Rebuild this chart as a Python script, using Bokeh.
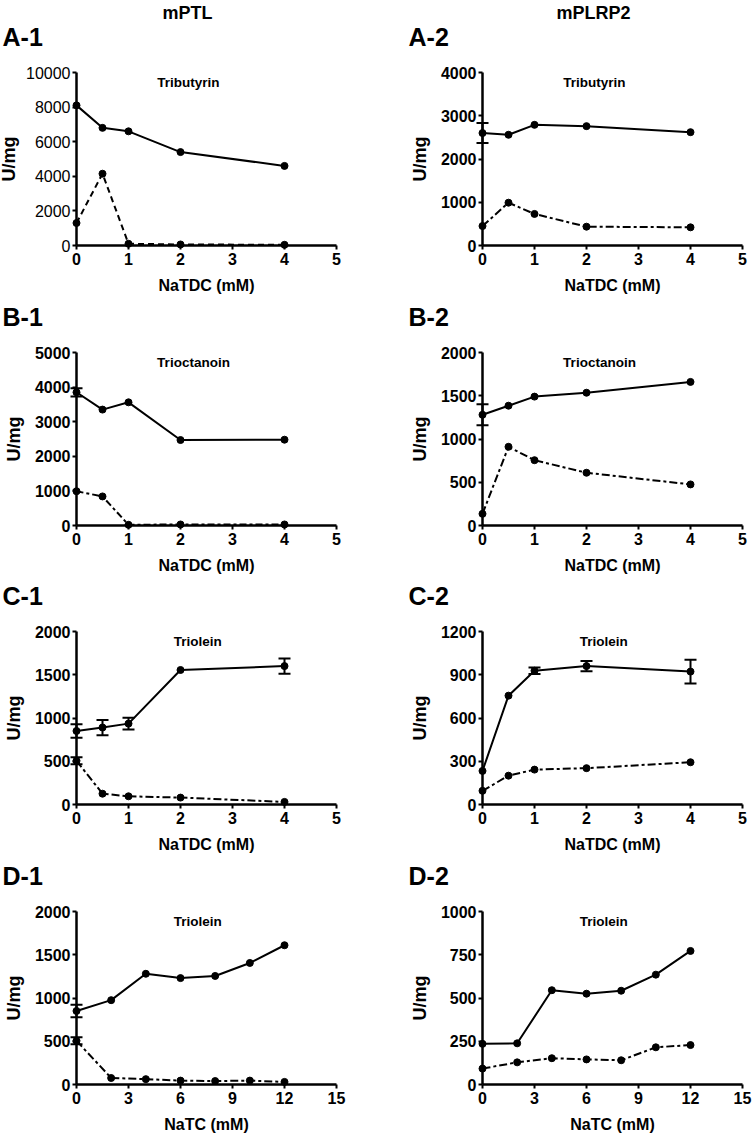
from bokeh.plotting import figure
from bokeh.layouts import column, row
from bokeh.models import Range1d, Label, Whisker, ColumnDataSource, FixedTicker, TeeHead
from bokeh.embed import file_html
from bokeh.resources import INLINE

FONT = "Liberation Sans"

# ---------------- data ----------------
col_titles = ["mPTL", "mPLRP2"]
x_natdc = [0, 0.5, 1, 2, 4]
x_natc = [0, 2, 4, 6, 8, 10, 12]
xticks_natdc = [0, 1, 2, 3, 4, 5]
xticks_natc = [0, 3, 6, 9, 12, 15]
xlabel_natdc = "NaTDC (mM)"
xlabel_natc = "NaTC (mM)"
ylabel = "U/mg"

# A-1  mPTL, Tributyrin
a1_yticks = [0, 2000, 4000, 6000, 8000, 10000]
a1_solid = [8100, 6800, 6600, 5400, 4600]
a1_solid_err = [0, 0, 0, 0, 0]
a1_dash = [1300, 4150, 100, 60, 40]
a1_dash_err = [0, 0, 0, 0, 0]

# A-2  mPLRP2, Tributyrin
a2_yticks = [0, 1000, 2000, 3000, 4000]
a2_solid = [2600, 2560, 2790, 2760, 2620]
a2_solid_err = [230, 0, 0, 0, 0]
a2_dash = [450, 990, 730, 435, 420]
a2_dash_err = [0, 0, 0, 0, 0]

# B-1  mPTL, Trioctanoin
b1_yticks = [0, 1000, 2000, 3000, 4000, 5000]
b1_solid = [3850, 3350, 3560, 2470, 2480]
b1_solid_err = [120, 0, 0, 0, 0]
b1_dash = [990, 840, 20, 30, 30]
b1_dash_err = [0, 0, 0, 0, 0]

# B-2  mPLRP2, Trioctanoin
b2_yticks = [0, 500, 1000, 1500, 2000]
b2_solid = [1280, 1385, 1490, 1535, 1660]
b2_solid_err = [122, 0, 0, 0, 0]
b2_dash = [135, 910, 755, 610, 475]
b2_dash_err = [0, 0, 0, 0, 0]

# C-1  mPTL, Triolein, NaTDC
c1_yticks = [0, 500, 1000, 1500, 2000]
c1_solid = [850, 890, 935, 1555, 1600]
c1_solid_err = [77, 88, 68, 0, 88]
c1_dash = [505, 125, 95, 80, 30]
c1_dash_err = [40, 0, 0, 0, 0]

# C-2  mPLRP2, Triolein, NaTDC
c2_yticks = [0, 300, 600, 900, 1200]
c2_solid = [233, 755, 928, 960, 922]
c2_solid_err = [0, 0, 23, 35, 82]
c2_dash = [95, 200, 242, 252, 293]
c2_dash_err = [0, 0, 0, 0, 0]

# D-1  mPTL, Triolein, NaTC
d1_yticks = [0, 500, 1000, 1500, 2000]
d1_solid = [850, 975, 1280, 1230, 1255, 1405, 1610]
d1_solid_err = [73, 0, 0, 0, 0, 0, 0]
d1_dash = [505, 75, 62, 45, 40, 45, 30]
d1_dash_err = [40, 0, 0, 0, 0, 0, 0]

# D-2  mPLRP2, Triolein, NaTC
d2_yticks = [0, 250, 500, 750, 1000]
d2_solid = [235, 238, 545, 525, 542, 635, 772]
d2_solid_err = [0, 0, 0, 0, 0, 0, 0]
d2_dash = [92, 128, 152, 145, 140, 215, 228]
d2_dash_err = [0, 0, 0, 0, 0, 0, 0]


# ---------------- drawing ----------------
W, H = 260, 173          # pixel length of x (0..xmax) and y (0..ymax) axes
FIG_W = [377, 376]
AX_X = [76, 105]
ROWS = [(296, 72), (280, 56), (280, 55), (277, 55)]   # (figure height, px from top to ymax)


def add_err(p, xs, ys, err):
    idx = [i for i, e in enumerate(err) if e > 0]
    if not idx:
        return
    src = ColumnDataSource(dict(
        x=[xs[i] for i in idx],
        upper=[ys[i] + err[i] for i in idx],
        lower=[ys[i] - err[i] for i in idx]))
    p.add_layout(Whisker(source=src, base="x", upper="upper", lower="lower",
                         dimension="height", line_width=2, line_color="black",
                         upper_head=TeeHead(size=12, line_width=2, line_color="black"),
                         lower_head=TeeHead(size=12, line_width=2, line_color="black")))


def panel(letter, substrate, sub_frac, xs, solid, solid_err, dash, dash_err,
          xticks, xlabel, yticks, dash_style, col, rowi, ytick_style="bold",
          ylab_standoff=8):
    xmax = xticks[-1]
    ymax = yticks[-1]
    height, top_y = ROWS[rowi]
    width = FIG_W[col]
    ax_x = AX_X[col]
    ux = xmax / W
    uy = ymax / H
    xr = Range1d(-ax_x * ux, xmax + (width - ax_x - W) * ux)
    yr = Range1d(-(height - top_y - H) * uy, ymax + top_y * uy)
    p = figure(width=width, height=height, x_range=xr, y_range=yr,
               output_backend="svg", toolbar_location=None,
               min_border_left=0, min_border_right=0, min_border_top=0,
               min_border_bottom=0)
    p.outline_line_color = None
    p.xgrid.visible = False
    p.ygrid.visible = False
    p.background_fill_color = "white"
    p.border_fill_color = "white"

    for ax in (p.xaxis[0], p.yaxis[0]):
        ax.fixed_location = 0
        ax.axis_line_width = 2.5
        ax.axis_line_color = "black"
        ax.major_tick_line_width = 2
        ax.major_tick_line_color = "black"
        ax.major_tick_out = 4
        ax.major_tick_in = 0
        ax.minor_tick_line_color = None
        ax.major_label_text_font = FONT
        ax.major_label_text_font_size = "16px"
        ax.major_label_text_font_style = "bold"
        ax.major_label_text_color = "black"
        ax.axis_label_text_font = FONT
        ax.axis_label_text_font_style = "bold"
        ax.axis_label_text_color = "black"

    xa = p.xaxis[0]
    xa.bounds = (0, xmax)
    xa.ticker = FixedTicker(ticks=xticks)
    xa.major_label_standoff = 3
    xa.axis_label = xlabel
    xa.axis_label_text_font_size = "16px"
    xa.axis_label_standoff = 9

    ya = p.yaxis[0]
    ya.bounds = (0, ymax)
    ya.ticker = FixedTicker(ticks=yticks)
    ya.major_label_standoff = 2
    ya.major_label_text_font_style = ytick_style
    ya.axis_label = ylabel
    ya.axis_label_text_font_size = "18px"
    ya.axis_label_standoff = ylab_standoff

    # solid series
    p.line(xs, solid, line_width=2, line_color="black")
    add_err(p, xs, solid, solid_err)
    p.scatter(xs, solid, size=7, color="black")
    # dashed series
    p.line(xs, dash, line_width=2, line_color="black", line_dash=dash_style)
    add_err(p, xs, dash, dash_err)
    p.scatter(xs, dash, size=7, color="black")

    p.add_layout(Label(x=0, y=ymax, x_offset=-74, y_offset=36, text=letter,
                       text_font=FONT, text_font_size="25px", text_font_style="bold",
                       text_align="left", text_baseline="alphabetic", text_color="black"))
    p.add_layout(Label(x=sub_frac * xmax, y=ymax, y_offset=-10, text=substrate,
                       text_font=FONT, text_font_size="13.5px", text_font_style="bold",
                       text_align="center", text_baseline="alphabetic", text_color="black"))
    if rowi == 0:
        p.add_layout(Label(x=0, y=ymax, x_offset=111, y_offset=60, text=col_titles[col],
                           text_font=FONT, text_font_size="18px", text_font_style="bold",
                           text_align="center", text_baseline="alphabetic",
                           text_color="black"))
    return p


pa1 = panel("A-1", "Tributyrin", 0.43, x_natdc, a1_solid, a1_solid_err, a1_dash, a1_dash_err,
            xticks_natdc, xlabel_natdc, a1_yticks, "6 4", 0, 0, ytick_style="normal",
            ylab_standoff=4)
pa2 = panel("A-2", "Tributyrin", 0.43, x_natdc, a2_solid, a2_solid_err, a2_dash, a2_dash_err,
            xticks_natdc, xlabel_natdc, a2_yticks, "8 3 3 3", 1, 0)
pb1 = panel("B-1", "Trioctanoin", 0.45, x_natdc, b1_solid, b1_solid_err, b1_dash, b1_dash_err,
            xticks_natdc, xlabel_natdc, b1_yticks, "7 3 3 3", 0, 1)
pb2 = panel("B-2", "Trioctanoin", 0.45, x_natdc, b2_solid, b2_solid_err, b2_dash, b2_dash_err,
            xticks_natdc, xlabel_natdc, b2_yticks, "8 3 3 3", 1, 1)
pc1 = panel("C-1", "Triolein", 0.466, x_natdc, c1_solid, c1_solid_err, c1_dash, c1_dash_err,
            xticks_natdc, xlabel_natdc, c1_yticks, "8 3 3 3", 0, 2)
pc2 = panel("C-2", "Triolein", 0.466, x_natdc, c2_solid, c2_solid_err, c2_dash, c2_dash_err,
            xticks_natdc, xlabel_natdc, c2_yticks, "8 3 3 3", 1, 2)
pd1 = panel("D-1", "Triolein", 0.466, x_natc, d1_solid, d1_solid_err, d1_dash, d1_dash_err,
            xticks_natc, xlabel_natc, d1_yticks, "8 3 3 3", 0, 3)
pd2 = panel("D-2", "Triolein", 0.466, x_natc, d2_solid, d2_solid_err, d2_dash, d2_dash_err,
            xticks_natc, xlabel_natc, d2_yticks, "8 3 3 3", 1, 3)

layout = column(row(pa1, pa2), row(pb1, pb2), row(pc1, pc2), row(pd1, pd2))

open("out.html", "w").write(file_html(layout, INLINE))
